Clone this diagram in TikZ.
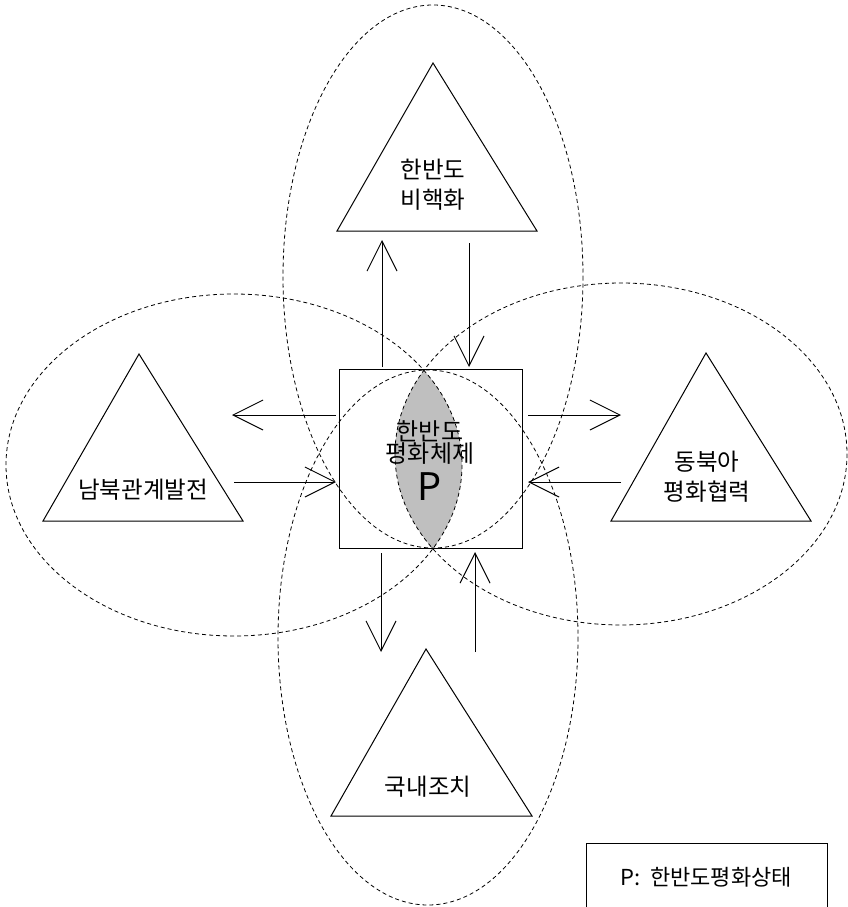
\documentclass[tikz,border=0pt]{standalone}
\usepackage{fontspec}
\setmainfont{Noto Sans CJK KR}
\usetikzlibrary{arrows.meta}
\tikzset{
  dashell/.style={draw=black, line width=0.8pt, dash pattern=on 4pt off 3pt},
  tri/.style={draw=black, line width=1pt, line join=miter},
  flow/.style={draw=black, line width=1pt, -{Straight Barb[length=30pt,width=30pt,line width=1pt]}},
  lbl/.style={font=\fontsize{23.5}{30}\selectfont, align=center, inner sep=0pt},
  leglbl/.style={font=\fontsize{22}{30}\selectfont, inner sep=0pt},
  clbl/.style={font=\fontsize{24}{21}\selectfont, align=center, inner sep=0pt},
  plbl/.style={font=\fontsize{38}{38}\selectfont, inner sep=0pt},
  lens/.style={fill=black!25}
}
\begin{document}
\begin{tikzpicture}[x=1pt,y=-1pt]
\useasboundingbox (0,0) rectangle (848,907);
% gray lens (intersection of left and right ellipses)
\begin{scope}
  \clip (234,465) ellipse [x radius=228, y radius=171];
  \path[lens] (621,454) ellipse [x radius=226, y radius=171];
\end{scope}
% central square
\node[draw=black, line width=1pt, minimum width=183pt, minimum height=179pt, inner sep=0pt] (sq) at (430.5,458.5) {};
% triangles
\draw[tri] (433,63) -- (337,231) -- (537,231) -- cycle;
\draw[tri] (139,354) -- (43,521) -- (243,521) -- cycle;
\draw[tri] (706,353) -- (611,521) -- (811,521) -- cycle;
\draw[tri] (426,649) -- (331,816) -- (532,816) -- cycle;
% dashed ellipses
\draw[dashell] (433,276.5) ellipse [x radius=150, y radius=271.5];
\draw[dashell] (428,637.5) ellipse [x radius=150, y radius=267.5];
\draw[dashell] (234,465) ellipse [x radius=228, y radius=171];
\draw[dashell] (621,454) ellipse [x radius=226, y radius=171];
% labels
\node[lbl] (tTop) at (433,185) {한반도\\비핵화};
\node[lbl] (tLeft) at (143,490) {남북관계발전};
\node[lbl] (tRight) at (707,477) {동북아\\평화협력};
\node[lbl] (tBot) at (428,787) {국내조치};
\node[clbl] (tCen) at (430,442.5) {한반도\\평화체제};
\node[plbl] (tP) at (430,487) {P};
% legend
\draw[line width=1pt] (586,930) -- (586,843) -- (827,843) -- (827,930);
\node[leglbl] (leg) at (706,877) {P:\ \ 한반도평화상태};
% arrow end points
\coordinate (a1s) at (382,367); \coordinate (a1e) at (382,240);
\coordinate (a2s) at (469,243); \coordinate (a2e) at (469,367);
\coordinate (a3s) at (336,415); \coordinate (a3e) at (232,415);
\coordinate (a4s) at (234,482); \coordinate (a4e) at (336,482);
\coordinate (a5s) at (528,415); \coordinate (a5e) at (621,415);
\coordinate (a6s) at (621,482); \coordinate (a6e) at (528,482);
\coordinate (a7s) at (381,553); \coordinate (a7e) at (381,652);
\coordinate (a8s) at (475,652); \coordinate (a8e) at (475,552);
\draw[flow] (a1s) -- (a1e);
\draw[flow] (a2s) -- (a2e);
\draw[flow] (a3s) -- (a3e);
\draw[flow] (a4s) -- (a4e);
\draw[flow] (a5s) -- (a5e);
\draw[flow] (a6s) -- (a6e);
\draw[flow] (a7s) -- (a7e);
\draw[flow] (a8s) -- (a8e);
\end{tikzpicture}
\end{document}
